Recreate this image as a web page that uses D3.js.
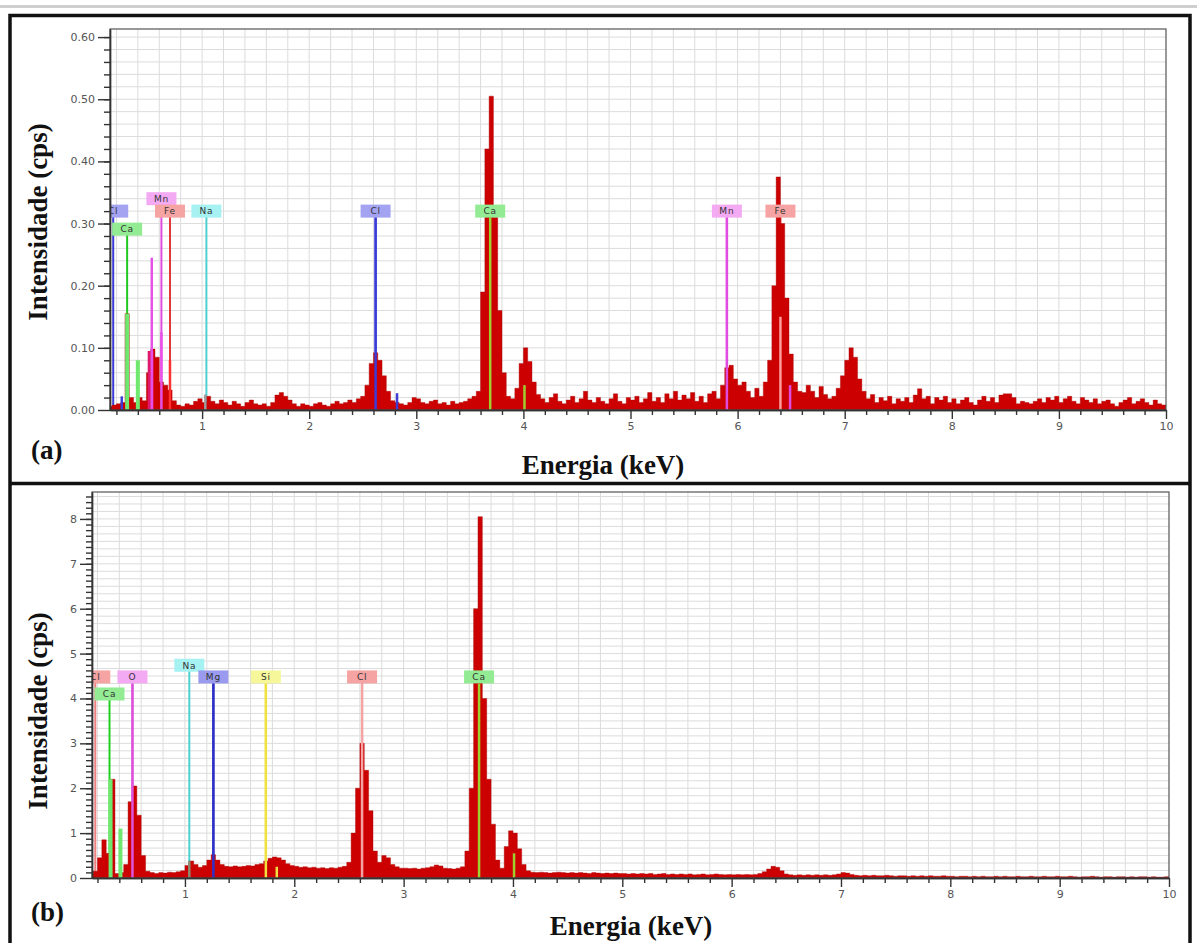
<!DOCTYPE html>
<html>
<head>
<meta charset="utf-8">
<script src="https://cdnjs.cloudflare.com/ajax/libs/d3/7.8.5/d3.min.js"></script>
<style>
    html, body { margin: 0; padding: 0; background: #fff; }
    svg { display: block; }
</style>
</head>
<body>
<div id="chart"></div>
<script>
const width = 1197;
const height = 943;

// チャンネル: 0.12 keV から 0.04 keV 刻み
const channelStart = 0.12;
const channelWidth = 0.04;

// (a) スペクトル (cps)
const spectrumA = [
    0.006, 0.008, 0.010, 0.012, 0.155, 0.020, 0.012, 0.020, 0.015, 0.060, 0.098, 0.085, 0.045, 0.040, 0.032, 0.015, 0.008, 0.006, 0.010, 0.008, 0.014, 0.018,
    0.012, 0.022, 0.014, 0.010, 0.016, 0.012, 0.008, 0.014, 0.010, 0.006, 0.012, 0.016, 0.010, 0.008, 0.010, 0.006, 0.012, 0.024, 0.028, 0.022, 0.016, 0.010, 0.006, 0.010, 0.008,
    0.006, 0.010, 0.012, 0.008, 0.006, 0.010, 0.014, 0.010, 0.012, 0.016, 0.012, 0.018, 0.022, 0.040, 0.075, 0.092, 0.080, 0.055, 0.030, 0.015, 0.012, 0.010, 0.008, 0.012, 0.020,
    0.018, 0.012, 0.010, 0.014, 0.016, 0.010, 0.012, 0.008, 0.014, 0.010, 0.012, 0.014, 0.018, 0.022, 0.030, 0.190, 0.420, 0.505, 0.310, 0.160, 0.060, 0.022, 0.018, 0.035, 0.075,
    0.100, 0.078, 0.045, 0.025, 0.018, 0.012, 0.020, 0.026, 0.014, 0.010, 0.016, 0.022, 0.012, 0.018, 0.030, 0.016, 0.012, 0.020, 0.014, 0.010, 0.018, 0.026, 0.014, 0.010, 0.020,
    0.016, 0.022, 0.012, 0.018, 0.028, 0.014, 0.020, 0.012, 0.026, 0.018, 0.030, 0.016, 0.024, 0.018, 0.028, 0.014, 0.022, 0.012, 0.026, 0.030, 0.018, 0.040, 0.068, 0.072, 0.050,
    0.040, 0.045, 0.030, 0.020, 0.035, 0.022, 0.045, 0.080, 0.200, 0.375, 0.300, 0.180, 0.090, 0.045, 0.030, 0.028, 0.040, 0.030, 0.020, 0.038, 0.025, 0.018, 0.022, 0.035, 0.055,
    0.080, 0.100, 0.085, 0.050, 0.030, 0.018, 0.025, 0.012, 0.020, 0.015, 0.022, 0.010, 0.018, 0.014, 0.020, 0.012, 0.024, 0.034, 0.018, 0.022, 0.010, 0.020, 0.016, 0.022, 0.012,
    0.018, 0.010, 0.016, 0.020, 0.012, 0.008, 0.016, 0.022, 0.014, 0.020, 0.012, 0.024, 0.026, 0.026, 0.020, 0.010, 0.014, 0.012, 0.010, 0.014, 0.018, 0.012, 0.020, 0.016, 0.022,
    0.012, 0.018, 0.022, 0.014, 0.010, 0.020, 0.016, 0.012, 0.018, 0.010, 0.014, 0.016, 0.010, 0.006, 0.012, 0.016, 0.020, 0.010, 0.014, 0.018, 0.012, 0.008, 0.016, 0.010, 0.008
];

// (b) スペクトル (cps)
const spectrumB = [
    0.05, 0.15, 0.45, 0.85, 0.55, 2.20, 0.10, 0.12, 0.30, 1.70, 2.05, 1.40, 0.50, 0.15, 0.12, 0.10, 0.12, 0.11, 0.13, 0.12, 0.14, 0.16,
    0.28, 0.38, 0.30, 0.24, 0.28, 0.40, 0.52, 0.40, 0.30, 0.26, 0.25, 0.27, 0.25, 0.26, 0.28, 0.27, 0.30, 0.32, 0.38, 0.44, 0.47, 0.45, 0.40, 0.32, 0.28,
    0.26, 0.24, 0.25, 0.23, 0.24, 0.22, 0.23, 0.21, 0.23, 0.22, 0.24, 0.26, 0.35, 1.00, 2.00, 3.00, 2.40, 1.50, 0.60, 0.35, 0.50, 0.45, 0.30, 0.25, 0.22,
    0.22, 0.21, 0.22, 0.20, 0.22, 0.23, 0.25, 0.29, 0.27, 0.22, 0.21, 0.20, 0.22, 0.25, 0.60, 2.00, 6.00, 8.05, 4.00, 2.20, 1.20, 0.40, 0.22, 0.70, 1.05,
    1.00, 0.65, 0.30, 0.16, 0.13, 0.12, 0.13, 0.12, 0.11, 0.12, 0.13, 0.12, 0.11, 0.12, 0.11, 0.12, 0.11, 0.10, 0.12, 0.11, 0.10, 0.11, 0.10, 0.11, 0.10,
    0.10, 0.09, 0.10, 0.09, 0.10, 0.09, 0.10, 0.08, 0.09, 0.10, 0.08, 0.09, 0.08, 0.09, 0.08, 0.09, 0.07, 0.08, 0.09, 0.07, 0.08, 0.09, 0.08, 0.07, 0.08,
    0.07, 0.08, 0.07, 0.08, 0.07, 0.08, 0.10, 0.14, 0.20, 0.26, 0.24, 0.16, 0.09, 0.07, 0.06, 0.07, 0.06, 0.07, 0.06, 0.07, 0.06, 0.07, 0.06, 0.07, 0.09,
    0.12, 0.11, 0.08, 0.06, 0.05, 0.06, 0.05, 0.06, 0.05, 0.05, 0.06, 0.05, 0.04, 0.05, 0.05, 0.04, 0.05, 0.04, 0.05, 0.04, 0.05, 0.04, 0.04, 0.05, 0.04,
    0.04, 0.03, 0.04, 0.04, 0.03, 0.04, 0.03, 0.04, 0.03, 0.03, 0.04, 0.03, 0.04, 0.03, 0.03, 0.04, 0.03, 0.03, 0.04, 0.03, 0.03, 0.04, 0.03, 0.03, 0.04,
    0.03, 0.03, 0.04, 0.03, 0.02, 0.03, 0.03, 0.04, 0.03, 0.02, 0.03, 0.03, 0.02, 0.03, 0.03, 0.02, 0.03, 0.02, 0.03, 0.03, 0.02, 0.03, 0.02, 0.02, 0.03
];

// 目盛
const xTickValues = [1, 2, 3, 4, 5, 6, 7, 8, 9, 10];
const yTicksA = [0, 0.1, 0.2, 0.3, 0.4, 0.5, 0.6];
const yTicksB = [0, 1, 2, 3, 4, 5, 6, 7, 8];

// 元素ラベル (a)
const markerElemA = ["Cl", "Ca", "Mn", "Fe", "Na", "Cl", "Ca", "Mn", "Fe"];
const markerEnergyA = [0.17, 0.30, 0.62, 0.70, 1.04, 2.62, 3.69, 5.90, 6.40];
const markerLevelA = [0.32, 0.291, 0.34, 0.32, 0.32, 0.32, 0.32, 0.32, 0.32];

// 元素ラベル (b)
const markerElemB = ["Cl", "Ca", "O", "Na", "Mg", "Si", "Cl", "Ca"];
const markerEnergyB = [0.18, 0.31, 0.52, 1.04, 1.26, 1.74, 2.62, 3.69];
const markerLevelB = [4.48, 4.10, 4.48, 4.74, 4.48, 4.48, 4.48, 4.48];

// スペクトルの上に描くピーク線 (a)
const peakLineA = ["Cl L", "Ca L", "Ca L", "O K", "Mn L", "Mn L", "Fe L", "Na K", "Cl K", "Cl K", "Ca K", "Ca K", "Mn K", "Fe K", "Mn K"];
const peakEnergyA = [0.25, 0.30, 0.40, 0.52, 0.53, 0.62, 0.70, 1.03, 2.62, 2.82, 3.69, 4.01, 5.90, 6.40, 6.49];
const peakHeightA = [0.022, 0.155, 0.08, 0.095, 0.245, 0.125, 0.08, 0.025, 0.31, 0.027, 0.31, 0.04, 0.31, 0.15, 0.04];

// スペクトルの上に描くピーク線 (b)
const peakLineB = ["Ca L", "Ca L", "O K", "Na K", "Mg K", "Si K", "Si K", "Cl K", "Ca K", "Ca K"];
const peakEnergyB = [0.32, 0.41, 0.52, 1.04, 1.26, 1.74, 1.84, 2.62, 3.69, 4.01];
const peakHeightB = [2.2, 1.1, 4.33, 0.38, 4.33, 4.33, 0.25, 4.33, 4.33, 0.55];

// 色 [線, ラベル背景]
const markerStyleA = {
    Cl: ["#3b3bd6", "#a3a3f2"],
    Ca: ["#20c820", "#93ec93"],
    Mn: ["#e04ce0", "#f3aaf3"],
    Fe: ["#e23a3a", "#f5a3a3"],
    Na: ["#4fd0d0", "#a6f1f1"]
};
const markerStyleB = {
    Cl: ["#ee7f7f", "#f5a3a3"],
    Ca: ["#20d020", "#93ec93"],
    O: ["#dd55dd", "#f3aaf3"],
    Na: ["#4fd0d0", "#a6f1f1"],
    Mg: ["#3030c8", "#9a9aee"],
    Si: ["#ecec3a", "#f6f69a"]
};
const peakStyleA = {
    "Cl L": "#3b3bd6", "Ca L": "#6fe86f", "O K": "#e0186a", "Mn L": "#e650e6",
    "Fe L": "#ff3030", "Na K": "#9c9c9c", "Cl K": "#3b3bd6", "Ca K": "#a0d030",
    "Mn K": "#e04ce0", "Fe K": "#ff9c9c"
};
const peakStyleB = {
    "Ca L": "#6fe86f", "O K": "#dd55dd", "Na K": "#8c8c70", "Mg K": "#3030c8",
    "Si K": "#f0e040", "Cl K": "#f5a3a3", "Ca K": "#a0d030"
};
const peakWidthA = { "Ca L": 4, "O K": 6 };
const peakWidthB = { "Ca L": 4 };

const serif = "'Liberation Serif', 'Times New Roman', serif";

// SVGを作成
const svg = d3
    .select("#chart")
    .append("svg")
    .attr("width", width)
    .attr("height", height)
    .style("font-family", "'DejaVu Sans', sans-serif");

svg.append("rect").attr("width", width).attr("height", height).attr("fill", "#fff");

// 上部のグレー線
svg.append("line")
    .attr("x1", 0).attr("x2", width).attr("y1", 6.5).attr("y2", 6.5)
    .attr("stroke", "#cfcfcf").attr("stroke-width", 3);

function drawPanel(p) {
    const x = d3.scaleLinear().domain([p.xMin, 10]).range([p.left, p.right]);
    const y = d3.scaleLinear().domain([0, p.yMax]).range([p.bottom, p.top]);

    const g = svg.append("g");

    g.append("clipPath")
        .attr("id", "clip-" + p.id)
        .append("rect")
        .attr("x", p.left)
        .attr("y", p.top)
        .attr("width", p.right - p.left)
        .attr("height", p.bottom - p.top);

    const plot = g.append("g").attr("clip-path", `url(#clip-${p.id})`);

    // グリッド
    plot.append("g")
        .selectAll("line")
        .data(d3.range(0.2, 10, 0.2))
        .join("line")
        .attr("x1", d => x(d)).attr("x2", d => x(d))
        .attr("y1", p.top).attr("y2", p.bottom)
        .attr("stroke", "#dcdcdc");

    plot.append("g")
        .selectAll("line")
        .data(p.gridY)
        .join("line")
        .attr("x1", p.left).attr("x2", p.right)
        .attr("y1", d => y(d)).attr("y2", d => y(d))
        .attr("stroke", "#dcdcdc");

    const markers = p.markerElem.map(function (el, i) {
        return { el: el, e: p.markerEnergy[i], level: p.markerLevel[i] };
    });

    // 元素の線 (スペクトルの後ろ)
    plot.append("g")
        .selectAll("line")
        .data(markers)
        .join("line")
        .attr("x1", d => x(d.e)).attr("x2", d => x(d.e))
        .attr("y1", y(0)).attr("y2", d => y(d.level))
        .attr("stroke", d => p.markerStyle[d.el][0])
        .attr("stroke-width", 2);

    // スペクトル
    const points = p.spectrum.map(function (v, i) {
        return { e: channelStart + i * channelWidth, v: v };
    });
    points.push({ e: 10, v: p.spectrum[p.spectrum.length - 1] });

    const area = d3.area()
        .curve(d3.curveStepAfter)
        .x(d => x(d.e))
        .y0(y(0))
        .y1(d => y(d.v));

    plot.append("path")
        .datum(points)
        .attr("d", area)
        .attr("fill", "#cc0000")
        .attr("stroke", "#a80000")
        .attr("stroke-width", 0.4);

    // ピーク線 (スペクトルの上)
    const peaks = p.peakLine.map(function (name, i) {
        return { name: name, e: p.peakEnergy[i], h: p.peakHeight[i] };
    });

    plot.append("g")
        .selectAll("line")
        .data(peaks)
        .join("line")
        .attr("x1", d => x(d.e)).attr("x2", d => x(d.e))
        .attr("y1", y(0)).attr("y2", d => y(d.h))
        .attr("stroke", d => p.peakStyle[d.name])
        .attr("stroke-width", d => p.peakWidth[d.name] || 2.5);

    // 元素ラベル
    const labels = plot.append("g")
        .selectAll("g")
        .data(markers)
        .join("g")
        .attr("transform", d => `translate(${x(d.e)},${y(d.level)})`);

    labels.append("rect")
        .attr("x", -15).attr("y", -6.5)
        .attr("width", 30).attr("height", 13)
        .attr("fill", d => p.markerStyle[d.el][1]);

    labels.append("text")
        .attr("text-anchor", "middle")
        .attr("dy", "0.36em")
        .attr("font-size", 9)
        .attr("letter-spacing", 0.8)
        .attr("fill", "#333")
        .text(d => d.el);

    // 枠
    g.append("rect")
        .attr("x", p.left).attr("y", p.top)
        .attr("width", p.right - p.left).attr("height", p.bottom - p.top)
        .attr("fill", "none")
        .attr("stroke", "#555")
        .attr("stroke-width", 1.2);

    // X軸
    const xMinor = d3.range(0.2, 10, 0.2).filter(d => Math.abs(d - Math.round(d)) > 0.01);
    g.append("g")
        .attr("transform", `translate(0,${p.bottom})`)
        .call(d3.axisBottom(x).tickValues(xMinor).tickSize(5).tickSizeOuter(0).tickFormat(""));
    g.append("g")
        .attr("class", "axis")
        .attr("transform", `translate(0,${p.bottom})`)
        .call(d3.axisBottom(x).tickValues(xTickValues).tickSize(9).tickSizeOuter(0).tickPadding(3).tickFormat(d3.format("d")));

    // Y軸
    g.append("g")
        .attr("transform", `translate(${p.left},0)`)
        .call(d3.axisLeft(y).tickValues(p.yMinor).tickSize(6).tickSizeOuter(0).tickFormat(""));
    g.append("g")
        .attr("class", "axis")
        .attr("transform", `translate(${p.left},0)`)
        .call(d3.axisLeft(y).tickValues(p.yTicks).tickSize(12).tickSizeOuter(0).tickPadding(3).tickFormat(p.yFormat));

    g.selectAll(".domain, .tick line").attr("stroke", "#333").attr("stroke-width", 1.4);
    g.selectAll(".axis text")
        .attr("font-size", 11)
        .attr("font-family", "'DejaVu Sans', sans-serif")
        .attr("fill", "#555");

    // タイトル
    g.append("text")
        .attr("transform", `translate(47,${p.yTitleY}) rotate(-90)`)
        .attr("text-anchor", "middle")
        .attr("font-family", serif)
        .attr("font-weight", "bold")
        .attr("font-size", 27)
        .attr("fill", "#111")
        .text("Intensidade (cps)");

    g.append("text")
        .attr("x", p.xTitleX).attr("y", p.xTitleY)
        .attr("text-anchor", "middle")
        .attr("font-family", serif)
        .attr("font-weight", "bold")
        .attr("font-size", 27)
        .attr("fill", "#111")
        .text("Energia (keV)");

    g.append("text")
        .attr("x", 31).attr("y", p.tagY)
        .attr("font-family", serif)
        .attr("font-weight", "bold")
        .attr("font-size", 27)
        .attr("fill", "#111")
        .text(p.tag);
}

drawPanel({
    id: "a",
    left: 110, right: 1166, top: 29, bottom: 410,
    xMin: 0.14, yMax: 0.613,
    spectrum: spectrumA,
    yTicks: yTicksA,
    yMinor: d3.range(0.02, 0.61, 0.02),
    yFormat: d3.format(".2f"),
    gridY: d3.range(0.02, 0.613, 0.02),
    markerElem: markerElemA, markerEnergy: markerEnergyA, markerLevel: markerLevelA,
    markerStyle: markerStyleA,
    peakLine: peakLineA, peakEnergy: peakEnergyA, peakHeight: peakHeightA,
    peakStyle: peakStyleA, peakWidth: peakWidthA,
    yTitleY: 222, xTitleX: 603, xTitleY: 474, tag: "(a)", tagY: 459
});

drawPanel({
    id: "b",
    left: 92, right: 1169, top: 492, bottom: 878,
    xMin: 0.15, yMax: 8.6,
    spectrum: spectrumB,
    yTicks: yTicksB,
    yMinor: d3.range(0.125, 8.6, 0.125),
    yFormat: d3.format("d"),
    gridY: d3.range(1 / 6, 8.6, 1 / 6),
    markerElem: markerElemB, markerEnergy: markerEnergyB, markerLevel: markerLevelB,
    markerStyle: markerStyleB,
    peakLine: peakLineB, peakEnergy: peakEnergyB, peakHeight: peakHeightB,
    peakStyle: peakStyleB, peakWidth: peakWidthB,
    yTitleY: 711, xTitleX: 631, xTitleY: 935, tag: "(b)", tagY: 921
});

// 外枠
svg.append("rect")
    .attr("x", 10).attr("y", 15.5)
    .attr("width", 1180).attr("height", 1000)
    .attr("fill", "none")
    .attr("stroke", "#111")
    .attr("stroke-width", 3.5);

svg.append("line")
    .attr("x1", 10).attr("x2", 1190).attr("y1", 483.5).attr("y2", 483.5)
    .attr("stroke", "#111")
    .attr("stroke-width", 3.5);
</script>
</body>
</html>
